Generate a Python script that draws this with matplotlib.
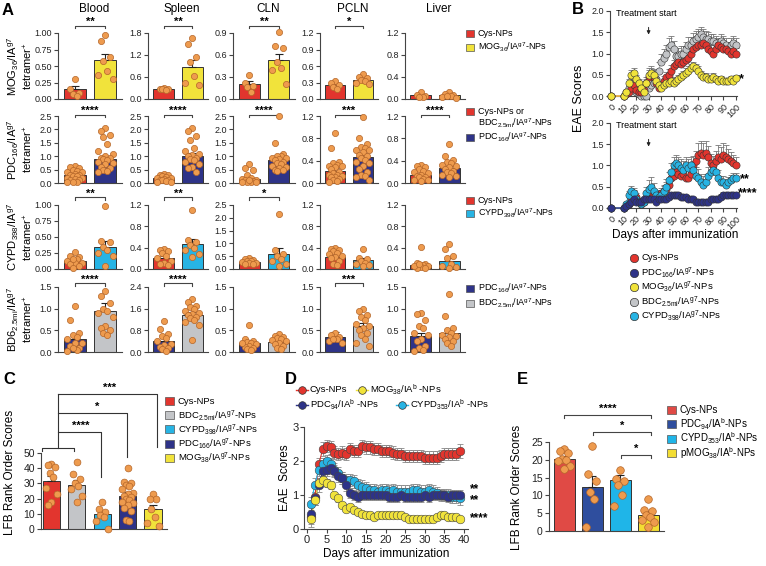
import matplotlib
matplotlib.use('Agg')
import matplotlib.pyplot as plt
import numpy as np
from matplotlib.patches import Rectangle
from matplotlib.lines import Line2D

plt.rcParams['font.family'] = ['Liberation Sans', 'DejaVu Sans']
plt.rcParams['mathtext.fontset'] = 'custom'
plt.rcParams['mathtext.rm'] = 'Liberation Sans'
plt.rcParams['mathtext.it'] = 'Liberation Sans:italic'
plt.rcParams['mathtext.bf'] = 'Liberation Sans:bold'
plt.rcParams['mathtext.default'] = 'regular'

# ---------------- colours ----------------
RED = '#E2352E'; YEL = '#F1E33B'; NAVY = '#2E3388'; CYAN = '#27B4E4'; GRAY = '#C3C5C8'
DOT = '#EE9B4E'; DOTE = '#B4662A'; AXC = '#444444'
RED_E = '#E04A45'; NAVY_E = '#2F4E9E'; CYAN_E = '#1FB5E8'; YEL_E = '#F3DD33'

# ---------------- panel A data ----------------
tissues = ['Blood', 'Spleen', 'CLN', 'PCLN', 'Liver']

mog_cys_mean = [0.15, 0.27, 0.20, 0.26, 0.07]
mog_cys_sem = [0.05, 0.02, 0.04, 0.03, 0.02]
mog_cys_pts = [[0.31, 0.15, 0.09, 0.07, 0.05],
               [0.30, 0.28, 0.27, 0.26, 0.24],
               [0.33, 0.22, 0.18, 0.10, 0.17],
               [0.33, 0.30, 0.25, 0.22, 0.18],
               [0.13, 0.08, 0.05, 0.03, 0.04]]
mog_np_mean = [0.59, 0.88, 0.53, 0.35, 0.07]
mog_np_sem = [0.09, 0.19, 0.09, 0.02, 0.02]
mog_np_pts = [[0.97, 0.88, 0.63, 0.57, 0.43, 0.37, 0.30],
              [1.65, 1.50, 1.15, 1.00, 0.62, 0.45, 0.38],
              [0.91, 0.72, 0.70, 0.50, 0.42, 0.40, 0.20],
              [0.45, 0.40, 0.38, 0.35, 0.33, 0.30, 0.27],
              [0.12, 0.10, 0.08, 0.05, 0.03, 0.02, 0.06]]

pdc_ctrl_mean = [0.28, 0.17, 0.15, 0.22, 0.15]
pdc_ctrl_sem = [0.04, 0.03, 0.06, 0.05, 0.02]
pdc_ctrl_pts = [
    [0.62, 0.60, 0.55, 0.50, 0.45, 0.40, 0.40, 0.35, 0.30, 0.30, 0.25, 0.25, 0.20, 0.20, 0.15, 0.10, 0.10, 0.05, 0.05, 0.03],
    [0.35, 0.30, 0.28, 0.25, 0.22, 0.20, 0.18, 0.15, 0.12, 0.10, 0.10, 0.08, 0.05, 0.05],
    [0.70, 0.55, 0.50, 0.30, 0.20, 0.15, 0.12, 0.10, 0.08, 0.05, 0.05, 0.03, 0.02, 0.10],
    [0.90, 0.62, 0.38, 0.35, 0.33, 0.30, 0.30, 0.28, 0.25, 0.20, 0.18, 0.15, 0.15, 0.12, 0.10, 0.10, 0.08, 0.05, 0.03, 0.02],
    [0.33, 0.30, 0.28, 0.25, 0.22, 0.20, 0.18, 0.15, 0.12, 0.10, 0.10, 0.08, 0.05, 0.05, 0.03]]
pdc_np_mean = [0.90, 1.02, 0.85, 0.47, 0.27]
pdc_np_sem = [0.11, 0.11, 0.12, 0.06, 0.04]
pdc_np_pts = [
    [2.05, 1.95, 1.80, 1.70, 1.45, 1.20, 1.10, 1.00, 0.95, 0.95, 0.90, 0.85, 0.80, 0.75, 0.70, 0.60, 0.55, 0.50, 0.45, 0.40],
    [2.05, 1.95, 1.75, 1.60, 1.30, 1.20, 1.10, 1.05, 1.00, 0.95, 0.90, 0.85, 0.80, 0.70, 0.60, 0.55, 0.40],
    [2.50, 1.50, 1.10, 1.00, 1.00, 0.95, 0.95, 0.90, 0.85, 0.80, 0.75, 0.70, 0.65, 0.60, 0.55, 0.50, 0.50, 0.45],
    [1.18, 0.80, 0.70, 0.65, 0.62, 0.60, 0.60, 0.55, 0.50, 0.48, 0.45, 0.42, 0.38, 0.35, 0.30, 0.25, 0.20, 0.15, 0.12, 0.10, 0.05],
    [0.70, 0.48, 0.42, 0.38, 0.35, 0.32, 0.30, 0.28, 0.25, 0.22, 0.20, 0.18, 0.15, 0.12, 0.10]]

cypd_cys_mean = [0.12, 0.21, 0.28, 0.23, 0.08]
cypd_cys_sem = [0.02, 0.03, 0.03, 0.03, 0.04]
cypd_cys_pts = [
    [0.27, 0.20, 0.18, 0.15, 0.12, 0.10, 0.10, 0.08, 0.05, 0.02, 0.15],
    [0.38, 0.35, 0.33, 0.30, 0.25, 0.20, 0.15, 0.12, 0.10, 0.08],
    [0.42, 0.40, 0.35, 0.32, 0.30, 0.28, 0.25, 0.22, 0.20, 0.18],
    [0.40, 0.38, 0.36, 0.33, 0.30, 0.28, 0.25, 0.22, 0.20, 0.15, 0.10, 0.08],
    [0.42, 0.12, 0.10, 0.08, 0.05, 0.03, 0.02, 0.01, 0.06, 0.10]]
cypd_np_mean = [0.34, 0.46, 0.60, 0.17, 0.15]
cypd_np_sem = [0.10, 0.10, 0.22, 0.04, 0.06]
cypd_np_pts = [
    [0.98, 0.44, 0.42, 0.35, 0.30, 0.25, 0.20, 0.05],
    [1.10, 0.55, 0.50, 0.45, 0.40, 0.35, 0.28, 0.22],
    [2.15, 0.75, 0.60, 0.50, 0.40, 0.30, 0.20, 0.10],
    [0.38, 0.20, 0.18, 0.15, 0.12, 0.10, 0.08, 0.05],
    [0.47, 0.38, 0.25, 0.20, 0.10, 0.05, 0.03, 0.02]]

bdc_pdc_mean = [0.29, 0.42, 0.20, 0.35, 0.37]
bdc_pdc_sem = [0.08, 0.09, 0.04, 0.11, 0.08]
bdc_pdc_pts = [
    [1.07, 0.75, 0.45, 0.40, 0.35, 0.30, 0.20, 0.15, 0.10, 0.05, 0.02, 0.20, 0.10],
    [1.15, 0.85, 0.65, 0.60, 0.50, 0.40, 0.30, 0.25, 0.20, 0.15, 0.10, 0.05],
    [0.62, 0.30, 0.25, 0.22, 0.20, 0.18, 0.15, 0.12, 0.10, 0.08, 0.05, 0.20],
    [0.45, 0.40, 0.35, 0.30, 0.25, 0.20, 0.30],
    [0.90, 0.88, 0.75, 0.60, 0.55, 0.45, 0.40, 0.30, 0.25, 0.15, 0.10, 0.05, 0.02]]
bdc_np_mean = [0.95, 1.38, 0.24, 0.60, 0.44]
bdc_np_sem = [0.17, 0.10, 0.03, 0.07, 0.08]
bdc_np_pts = [
    [1.40, 1.30, 1.12, 1.00, 0.95, 0.90, 0.80, 0.60, 0.55, 0.50, 0.45, 0.40],
    [1.95, 1.85, 1.70, 1.65, 1.60, 1.50, 1.45, 1.40, 1.35, 1.30, 1.25, 1.20, 1.10, 1.00, 0.45],
    [0.42, 0.38, 0.35, 0.32, 0.30, 0.28, 0.25, 0.20, 0.18, 0.15, 0.10, 0.08],
    [1.00, 0.95, 0.85, 0.80, 0.75, 0.65, 0.60, 0.55, 0.50, 0.45, 0.40, 0.30, 0.20, 0.15],
    [1.33, 0.82, 0.55, 0.50, 0.45, 0.40, 0.38, 0.35, 0.30, 0.25, 0.20, 0.15]]

row_ytops = [[1.0, 1.8, 0.9, 1.2, 1.2],
             [2.5, 2.5, 2.5, 1.2, 1.2],
             [1.0, 1.2, 2.5, 1.2, 1.2],
             [1.5, 2.4, 1.5, 1.5, 1.5]]
row_ysteps = [[0.25, 0.6, 0.3, 0.3, 0.4],
              [0.5, 0.5, 0.5, 0.4, 0.4],
              [0.25, 0.4, 0.5, 0.4, 0.4],
              [0.5, 0.8, 0.5, 0.5, 0.5]]
row_sig = [['**', '**', '**', '*', ''],
           ['****', '****', '****', '***', '****'],
           ['**', '**', '*', '', ''],
           ['****', '****', '', '***', '']]
row_labels = ['MOG$_{36}$/IA$^{g7}$\ntetramer$^{+}$',
              'PDC$_{166}$/IA$^{g7}$\ntetramer$^{+}$',
              'CYPD$_{398}$/IA$^{g7}$\ntetramer$^{+}$',
              'BD6$_{2.5mi}$/IA$^{g7}$\ntetramer$^{+}$']
row_legends = [['Cys-NPs', 'MOG$_{36}$/IA$^{g7}$-NPs'],
               ['Cys-NPs or', 'PDC$_{166}$/IA$^{g7}$-NPs'],
               ['Cys-NPs', 'CYPD$_{398}$/IA$^{g7}$-NPs'],
               ['PDC$_{166}$/IA$^{g7}$-NPs', 'BDC$_{2.5mi}$/IA$^{g7}$-NPs']]
row2_legend_extra = 'BDC$_{2.5mi}$/IA$^{g7}$-NPs'
row_colors = [(RED, YEL), (RED, NAVY), (RED, CYAN), (NAVY, GRAY)]
row_data = [(mog_cys_mean, mog_cys_sem, mog_cys_pts, mog_np_mean, mog_np_sem, mog_np_pts),
            (pdc_ctrl_mean, pdc_ctrl_sem, pdc_ctrl_pts, pdc_np_mean, pdc_np_sem, pdc_np_pts),
            (cypd_cys_mean, cypd_cys_sem, cypd_cys_pts, cypd_np_mean, cypd_np_sem, cypd_np_pts),
            (bdc_pdc_mean, bdc_pdc_sem, bdc_pdc_pts, bdc_np_mean, bdc_np_sem, bdc_np_pts)]

# ---------------- panel B data ----------------
days_B = [0, 10, 12, 14, 16, 18, 20, 22, 24, 26, 28, 30, 32, 34, 36, 38, 40, 42, 44, 46, 48, 50,
          52, 54, 56, 58, 60, 62, 64, 66, 68, 70, 72, 74, 76, 78, 80, 82, 84, 86, 88, 90, 92, 94, 96, 98, 100]
b_top_cys = [0, 0, 0.05, 0.1, 0.2, 0.25, 0.15, 0.1, 0.1, 0.15, 0.3, 0.45, 0.5, 0.45, 0.3, 0.2, 0.25, 0.35, 0.45, 0.5,
             0.6, 0.7, 0.75, 0.8, 0.75, 0.8, 0.85, 0.9, 1.0, 1.1, 1.15, 1.2, 1.2, 1.25, 1.2, 1.1, 1.05, 1.0, 1.1, 1.2,
             1.15, 1.1, 1.1, 1.05, 1.0, 1.05, 1.0]
b_top_cys_sem = [0, 0, 0.05, 0.08, 0.1, 0.1, 0.08, 0.06, 0.06, 0.08, 0.15, 0.2, 0.2, 0.18, 0.12, 0.1, 0.1, 0.12, 0.12, 0.14,
                 0.14, 0.15, 0.15, 0.15, 0.14, 0.14, 0.15, 0.15, 0.16, 0.16, 0.15, 0.15, 0.15, 0.15, 0.15, 0.14, 0.14, 0.14,
                 0.15, 0.15, 0.15, 0.14, 0.14, 0.14, 0.14, 0.14, 0.14]
b_top_mog = [0, 0, 0.1, 0.3, 0.5, 0.55, 0.4, 0.3, 0.2, 0.1, 0.3, 0.5, 0.55, 0.5, 0.35, 0.25, 0.2, 0.25, 0.3, 0.3,
             0.35, 0.3, 0.35, 0.4, 0.45, 0.5, 0.55, 0.6, 0.65, 0.7, 0.65, 0.6, 0.5, 0.45, 0.45, 0.4, 0.4, 0.45, 0.4, 0.35,
             0.4, 0.35, 0.35, 0.35, 0.4, 0.35, 0.42]
b_top_mog_sem = [0, 0, 0.05, 0.1, 0.12, 0.12, 0.1, 0.1, 0.08, 0.05, 0.1, 0.12, 0.12, 0.12, 0.1, 0.08, 0.08, 0.08,
                 0.1, 0.1, 0.1, 0.1, 0.1, 0.1, 0.1, 0.1, 0.1, 0.1, 0.1, 0.1, 0.1, 0.1,
                 0.08, 0.08, 0.08, 0.08, 0.08, 0.08, 0.08, 0.08, 0.08, 0.08, 0.08, 0.08, 0.08, 0.08, 0.08]
b_top_bdc = [0, 0, 0.1, 0.2, 0.3, 0.3, 0.1, 0.05, 0, 0, 0, 0.2, 0.25, 0.3, 0.4, 0.6, 0.8, 0.9, 1.0, 1.15,
             1.2, 1.1, 0.95, 0.95, 1.0, 1.0, 1.1, 1.2, 1.2, 1.3, 1.35, 1.4, 1.45, 1.4, 1.35, 1.35, 1.3, 1.3, 1.25, 1.2,
             1.3, 1.25, 1.2, 1.1, 1.2, 1.25, 1.2]
b_top_bdc_sem = [0, 0, 0.05, 0.1, 0.12, 0.12, 0.08, 0.05, 0, 0, 0, 0.1, 0.12, 0.15, 0.18, 0.2, 0.2, 0.2, 0.2, 0.22, 0.22, 0.2,
                 0.18, 0.18, 0.18, 0.18, 0.18, 0.18, 0.18, 0.18, 0.18, 0.18, 0.18, 0.18, 0.18,
                 0.16, 0.16, 0.16, 0.16, 0.16, 0.16, 0.16, 0.16, 0.16, 0.16, 0.16, 0.16]
b_bot_cys = [0, 0, 0.05, 0.1, 0.2, 0.3, 0.25, 0.15, 0.1, 0.15, 0.2, 0.3, 0.35, 0.3, 0.25, 0.3, 0.35, 0.4, 0.45, 0.55,
             0.7, 0.75, 0.85, 0.8, 0.75, 0.8, 0.7, 0.7, 0.8, 1.0, 1.1, 1.25, 1.3, 1.25, 1.3, 1.2, 1.05, 1.0, 1.1, 1.2,
             1.15, 1.25, 1.2, 1.15, 1.1, 1.05, 1.0]
b_bot_cys_sem = [0, 0, 0.05, 0.08, 0.1, 0.12, 0.1, 0.08, 0.06, 0.08, 0.1, 0.12, 0.12, 0.12, 0.1, 0.1, 0.12, 0.12, 0.15, 0.15,
                 0.18, 0.18, 0.18, 0.18, 0.18, 0.18, 0.18, 0.18, 0.2, 0.22, 0.25, 0.28, 0.28, 0.28, 0.28, 0.25, 0.22, 0.22,
                 0.25, 0.28, 0.28, 0.28, 0.28, 0.25, 0.22, 0.2, 0.2]
b_bot_cypd = [0, 0, 0.1, 0.3, 0.4, 0.35, 0.2, 0.15, 0.1, 0.15, 0.35, 0.45, 0.5, 0.4, 0.3, 0.25, 0.3, 0.4, 0.5, 0.65,
              0.85, 1.0, 1.05, 1.0, 0.95, 0.9, 1.0, 0.95, 1.0, 0.9, 0.75, 0.7, 0.6, 0.55, 0.6, 0.75, 0.85, 0.9, 0.85, 0.7,
              0.6, 0.6, 0.55, 0.6, 0.65, 0.7, 0.7]
b_bot_cypd_sem = [0, 0, 0.05, 0.1, 0.12, 0.12, 0.1, 0.08, 0.06, 0.08, 0.15, 0.2, 0.22, 0.18, 0.12, 0.1, 0.12, 0.15, 0.18,
                  0.2, 0.2, 0.2, 0.2, 0.2, 0.2, 0.2, 0.2, 0.2, 0.2, 0.2,
                  0.22, 0.22, 0.2, 0.2, 0.2, 0.22, 0.22, 0.22, 0.22, 0.2, 0.15, 0.15, 0.12, 0.12, 0.12, 0.12, 0.12]
b_bot_pdc = [0, 0, 0.05, 0.1, 0.15, 0.2, 0.15, 0.15, 0.15, 0.2, 0.2, 0.2, 0.2, 0.2, 0.15, 0.2, 0.2, 0.2, 0.2, 0.25,
             0.3, 0.3, 0.3, 0.3, 0.25, 0.25, 0.25, 0.2, 0.2, 0.2, 0.15, 0.15, 0.15, 0.15, 0.15, 0.15, 0.2, 0.2, 0.2, 0.2,
             0.25, 0.3, 0.3, 0.3, 0.3, 0.3, 0.3]
b_bot_pdc_sem = [0, 0, 0.03, 0.05, 0.05, 0.06, 0.05, 0.05, 0.05, 0.06, 0.06, 0.06, 0.06, 0.06, 0.05, 0.06, 0.06, 0.06, 0.06,
                 0.06, 0.07, 0.07, 0.07, 0.07, 0.06, 0.06, 0.06, 0.05, 0.05, 0.05, 0.05, 0.05, 0.05, 0.05, 0.05, 0.05,
                 0.06, 0.06, 0.06, 0.06, 0.07, 0.08, 0.08, 0.08, 0.08, 0.08, 0.08]

# ---------------- panel C data ----------------
c_labels = ['Cys-NPs', 'BDC$_{2.5mi}$/IA$^{g7}$-NPs', 'CYPD$_{398}$/IA$^{g7}$-NPs',
            'PDC$_{166}$/IA$^{g7}$-NPs', 'MOG$_{38}$/IA$^{g7}$-NPs']
c_mean = [31.5, 29.0, 10.0, 22.0, 13.0]
c_sem = [3.5, 3.0, 2.0, 2.5, 3.0]
c_pts = [[43, 42, 41, 37, 34, 27, 23, 18, 16],
         [44, 36, 33, 30, 28, 26, 22, 18],
         [18, 13, 11, 9, 8, 5, 0],
         [40, 31, 30, 29, 28, 26, 24, 23, 22, 21, 20, 19, 18, 17, 16, 14, 12, 6, 5],
         [23, 20, 20, 13, 8, 4, 2]]

# ---------------- panel D data ----------------
days_D = [1, 2, 3, 4, 5, 6, 7, 8, 9, 10, 11, 12, 13, 14, 15, 16, 17, 18, 19, 20,
          21, 22, 23, 24, 25, 26, 27, 28, 29, 30, 31, 32, 33, 34, 35, 36, 37, 38, 39]
d_cys = [0.35, 0.95, 1.9, 2.35, 2.45, 2.4, 2.25, 2.2, 2.25, 2.2, 2.35, 2.3, 2.3, 2.45, 2.4, 2.4, 2.35, 2.35, 2.3, 2.3,
         2.3, 2.25, 2.2, 2.2, 2.15, 2.15, 2.15, 2.15, 2.15, 2.1, 2.1, 2.1, 2.1, 2.15, 2.2, 2.2, 2.2, 2.2, 2.3]
d_cys_sem = [0.3, 0.25, 0.2, 0.2, 0.18, 0.18, 0.18, 0.18, 0.18, 0.18, 0.18, 0.18, 0.18, 0.18, 0.18, 0.18, 0.18, 0.18,
             0.18, 0.18, 0.18, 0.18, 0.18, 0.18, 0.18, 0.18, 0.18, 0.18, 0.18, 0.18, 0.18, 0.18, 0.18, 0.18, 0.18,
             0.18, 0.18, 0.18, 0.2]
d_pdc = [0.45, 0.9, 1.3, 1.7, 1.75, 1.8, 1.7, 1.55, 1.5, 1.3, 1.05, 1.0, 0.95, 1.0, 1.0, 1.0, 1.0, 1.0, 1.0, 1.0,
         0.95, 0.95, 0.95, 1.0, 0.95, 0.95, 0.95, 0.95, 0.95, 1.0, 0.95, 1.0, 1.0, 1.0, 1.0, 0.95, 1.0, 1.0, 1.0]
d_pdc_sem = [0.2, 0.2, 0.2, 0.18, 0.18, 0.18, 0.18, 0.18, 0.18, 0.18, 0.15, 0.15, 0.15, 0.15, 0.15, 0.15, 0.15, 0.15,
             0.15, 0.15, 0.15, 0.15, 0.15, 0.15, 0.15, 0.15, 0.15, 0.15, 0.15, 0.15, 0.15, 0.15, 0.15, 0.15, 0.15,
             0.15, 0.15, 0.15, 0.15]
d_mog = [0.3, 0.85, 1.35, 1.45, 1.35, 1.3, 1.0, 0.9, 0.7, 0.6, 0.65, 0.55, 0.5, 0.45, 0.4, 0.4, 0.35, 0.4, 0.4, 0.4,
         0.4, 0.4, 0.4, 0.4, 0.35, 0.3, 0.3, 0.3, 0.3, 0.3, 0.3, 0.3, 0.35, 0.4, 0.4, 0.35, 0.35, 0.35, 0.3]
d_mog_sem = [0.15, 0.15, 0.15, 0.12, 0.12, 0.12, 0.1, 0.1, 0.08, 0.08, 0.08, 0.06, 0.06, 0.06, 0.05, 0.05, 0.05, 0.05,
             0.05, 0.05, 0.05, 0.05, 0.05, 0.05, 0.05, 0.05, 0.05, 0.05, 0.05, 0.05, 0.05, 0.05, 0.05, 0.05, 0.05,
             0.05, 0.05, 0.05, 0.05]
d_cypd = [0.75, 1.3, 1.75, 1.9, 2.0, 1.9, 1.75, 1.65, 1.5, 1.45, 1.45, 1.4, 1.3, 1.25, 1.2, 1.15, 1.15, 1.1, 1.15, 1.15,
          1.1, 1.15, 1.1, 1.1, 1.1, 1.1, 1.15, 1.15, 1.1, 1.1, 1.15, 1.1, 1.05, 1.0, 1.0, 1.0, 0.95, 0.95, 0.9]
d_cypd_sem = [0.2, 0.2, 0.2, 0.18, 0.18, 0.18, 0.18, 0.18, 0.18, 0.18, 0.18, 0.18, 0.18, 0.18, 0.18, 0.18, 0.18, 0.18,
              0.18, 0.18, 0.18, 0.18, 0.18, 0.18, 0.18, 0.18, 0.18, 0.18, 0.18, 0.18, 0.18, 0.18, 0.18, 0.18, 0.18,
              0.18, 0.18, 0.18, 0.18]

# ---------------- panel E data ----------------
e_labels = ['Cys-NPs', 'PDC$_{94}$/IA$^{b}$-NPs', 'CYPD$_{353}$/IA$^{b}$-NPs', 'pMOG$_{38}$/IA$^{b}$-NPs']
e_mean = [20.3, 12.5, 14.2, 4.5]
e_sem = [0.8, 3.0, 1.6, 1.0]
e_pts = [[23, 22.5, 22, 20.2, 20, 19.8, 18.2, 17.5],
         [24, 16, 14, 11, 9, 1],
         [17, 14.5, 14, 13, 10, 7],
         [9, 6, 5.5, 4.5, 4, 3, 2.5, 1]]

# ================= drawing =================
W, H = 766, 566
fig = plt.figure(figsize=(W / 100, H / 100), dpi=100)


def add_ax(x0, y0, x1, y1):
    return fig.add_axes([x0 / W, 1 - y1 / H, (x1 - x0) / W, (y1 - y0) / H])


def ftext(x, y, s, **kw):
    return fig.text(x / W, 1 - y / H, s, **kw)


def fsquare(x, y, color, w=8, h=7):
    fig.add_artist(Rectangle((x / W, 1 - (y + h / 2) / H), w / W, h / H, transform=fig.transFigure,
                             facecolor=color, edgecolor='#555555', lw=0.5))


def fmarker(x, y, color, ms=6, line=False):
    if line:
        fig.add_artist(Line2D([(x - 6) / W, (x + 6) / W], [1 - y / H, 1 - y / H], transform=fig.transFigure,
                              color=color, lw=1.0))
    fig.add_artist(Line2D([x / W], [1 - y / H], transform=fig.transFigure, marker='o', ms=ms,
                          mfc=color, mec='#333333', mew=0.5, ls='none'))


def style_ax(ax, labelsize=6.5, pad=1.5):
    for s in ['top', 'right']:
        ax.spines[s].set_visible(False)
    for s in ['left', 'bottom']:
        ax.spines[s].set_color(AXC)
        ax.spines[s].set_linewidth(0.8)
    ax.tick_params(axis='both', colors=AXC, labelcolor='#222222', labelsize=labelsize,
                   length=3, width=0.8, pad=pad)
    ax.set_facecolor('none')


def swarm_offsets(vals, spread=0.24):
    order = np.argsort(vals)[::-1]
    pattern = [0.0, -spread * 0.6, spread * 0.6, -spread * 0.3, spread * 0.3, -spread, spread]
    offs = np.zeros(len(vals))
    for k, i in enumerate(order):
        offs[i] = pattern[k % len(pattern)]
    return offs


def dots(ax, xc, vals, s=20, spread=0.24):
    vals = np.asarray(vals, float)
    ax.scatter(xc + swarm_offsets(vals, spread), vals, s=s, c=DOT, edgecolors=DOTE, linewidths=0.5,
               zorder=5, clip_on=False)


def bar_sem(ax, xc, mean, sem, color, width):
    ax.bar([xc], [mean], width=width, color=color, edgecolor='#333333', linewidth=0.7, zorder=2)
    ax.errorbar([xc], [mean], yerr=[[0], [sem]], fmt='none', ecolor='#222222', elinewidth=0.8,
                capsize=3, capthick=0.8, zorder=3)


# ---------- Panel A ----------
col_x = [(58, 122), (148, 208), (233, 295), (320, 378), (405, 465)]
row_y = [(33, 99), (116, 183), (205, 269), (287, 352)]
bracket_frac = [1.11, 1.02, 1.12, 1.06]
legend_y = [(33, 47), (111, 137), (200, 213), (288, 303)]

for r in range(4):
    m0, s0, p0, m1, s1, p1 = row_data[r]
    c0, c1 = row_colors[r]
    y0, y1 = row_y[r]
    for c in range(5):
        x0, x1 = col_x[c]
        ax = add_ax(x0, y0, x1, y1)
        style_ax(ax)
        ax.set_xlim(-0.55, 1.55)
        top = row_ytops[r][c]
        ax.set_ylim(0, top)
        step = row_ysteps[r][c]
        ticks = np.arange(0, top + step / 2, step)
        ax.set_yticks(ticks)
        fmt = '{:.2f}' if step == 0.25 else '{:.1f}'
        ax.set_yticklabels([fmt.format(t) for t in ticks])
        ax.set_xticks([])
        bar_sem(ax, 0, m0[c], s0[c], c0, 0.72)
        bar_sem(ax, 1, m1[c], s1[c], c1, 0.72)
        dots(ax, 0, p0[c])
        dots(ax, 1, p1[c])
        sig = row_sig[r][c]
        if sig:
            bf = bracket_frac[r]
            trans = ax.get_xaxis_transform()
            ax.plot([0, 0, 1, 1], [bf - 0.04, bf, bf, bf - 0.04], color='#444444', lw=0.8,
                    transform=trans, clip_on=False)
            ax.text(0.5, bf - 0.02, sig, transform=trans, ha='center', va='bottom',
                    fontsize=8, fontweight='bold', clip_on=False)
        if r == 0:
            ftext((x0 + x1) / 2 + 4, 9, tissues[c], ha='center', va='center', fontsize=8.5)
    ftext(20, (y0 + y1) / 2, row_labels[r], rotation=90, ha='center', va='center',
          fontsize=8, linespacing=1.05, multialignment='center')
    # legend
    ly0, ly1 = legend_y[r]
    fsquare(466, ly0, c0)
    ftext(478, ly0, row_legends[r][0], ha='left', va='center', fontsize=6.5)
    if r == 1:
        ftext(478, ly0 + 12, row2_legend_extra, ha='left', va='center', fontsize=6.5)
    fsquare(466, ly1, c1)
    ftext(478, ly1, row_legends[r][1], ha='left', va='center', fontsize=6.5)

# ---------- Panel B ----------
b_axes = [add_ax(610, 11, 737, 96), add_ax(610, 123, 737, 208)]
b_sets = [[(b_top_bdc, b_top_bdc_sem, GRAY), (b_top_cys, b_top_cys_sem, RED), (b_top_mog, b_top_mog_sem, YEL)],
          [(b_bot_cys, b_bot_cys_sem, RED), (b_bot_cypd, b_bot_cypd_sem, CYAN), (b_bot_pdc, b_bot_pdc_sem, NAVY)]]
for ax, sets in zip(b_axes, b_sets):
    style_ax(ax, labelsize=6.5)
    ax.set_xlim(-1, 101)
    ax.set_ylim(0, 2.0)
    ax.set_yticks([0, 0.5, 1.0, 1.5, 2.0])
    ax.set_yticklabels(['0.0', '0.5', '1.0', '1.5', '2.0'])
    ax.set_xticks(range(0, 101, 10))
    ax.set_xticklabels([str(v) for v in range(0, 101, 10)], rotation=45, ha='right', va='top',
                       rotation_mode='anchor')
    for vals, sem, col in sets:
        v = np.asarray(vals, float)
        ax.errorbar(days_B, v, yerr=[np.zeros_like(v), sem], fmt='none', ecolor='#777777',
                    elinewidth=0.6, capsize=2, capthick=0.6, zorder=2, clip_on=False)
        ax.plot(days_B, v, '-', color=col, lw=0.8, zorder=3, clip_on=False)
        ax.plot(days_B, v, 'o', ms=5.2, mfc=col, mec='#333333', mew=0.4, zorder=4, clip_on=False)
    ax.text(4, 1.93, 'Treatment start', fontsize=6.5, ha='left', va='center')
    ax.annotate('', xy=(30, 1.38), xytext=(30, 1.68),
                arrowprops=dict(arrowstyle='-|>', color='#222222', lw=0.7, mutation_scale=5))
b_axes[0].text(102.5, 0.4, '*', fontsize=9, fontweight='bold', ha='left', va='center', clip_on=False)
b_axes[1].text(103, 0.68, '**', fontsize=9, fontweight='bold', ha='left', va='center', clip_on=False)
b_axes[1].text(101.5, 0.34, '****', fontsize=9, fontweight='bold', ha='left', va='center', clip_on=False)
ftext(579, 98, 'EAE Scores', rotation=90, ha='center', va='center', fontsize=9)
ftext(675, 235, 'Days after immunization', ha='center', va='center', fontsize=8.5)
b_leg = [('Cys-NPs', RED), ('PDC$_{166}$/IA$^{g7}$-NPs', NAVY), ('MOG$_{36}$/IA$^{g7}$-NPs', YEL),
         ('BDC$_{2.5mi}$/IA$^{g7}$-NPs', GRAY), ('CYPD$_{398}$/IA$^{g7}$-NPs', CYAN)]
for i, (lab, col) in enumerate(b_leg):
    yy = 258 + i * 14.5
    fmarker(634, yy, col, ms=6)
    ftext(641, yy, lab, ha='left', va='center', fontsize=6.8)

# ---------- Panel C ----------
axC = add_ax(41, 453, 167, 529)
style_ax(axC, labelsize=7.5)
axC.set_xlim(-0.4, 4.55)
axC.set_ylim(0, 50)
axC.set_yticks([0, 10, 20, 30, 40, 50])
axC.set_xticks([])
c_cols = [RED, GRAY, CYAN, NAVY, YEL]
for i in range(5):
    bar_sem(axC, i, c_mean[i], c_sem[i], c_cols[i], 0.67)
    dots(axC, i, c_pts[i], s=24, spread=0.22)
bk = dict(color='#333333', lw=0.8, clip_on=False)
axC.plot([-0.35, -0.35, 0.9, 0.9], [51.5, 53.3, 53.3, 51.5], **bk)
axC.plot([0.27, 0.27], [53.3, 88.8], **bk)
axC.plot([0.27, 1.96, 1.96], [63.8, 63.8, 34], **bk)
axC.plot([0.27, 2.98, 2.98], [76.3, 76.3, 47.4], **bk)
axC.plot([0.27, 4.16, 4.16], [88.8, 88.8, 54], **bk)
axC.text(1.15, 64.5, '****', ha='center', va='bottom', fontsize=8, fontweight='bold', clip_on=False)
axC.text(1.8, 77.0, '*', ha='center', va='bottom', fontsize=8, fontweight='bold', clip_on=False)
axC.text(2.3, 89.5, '***', ha='center', va='bottom', fontsize=8, fontweight='bold', clip_on=False)
ftext(10, 472, 'LFB Rank Order Scores', rotation=90, ha='center', va='center', fontsize=8.5)
for i in range(5):
    yy = 401 + i * 14.2
    fsquare(165, yy, c_cols[i], w=9, h=8)
    ftext(178, yy, c_labels[i], ha='left', va='center', fontsize=6.8)

# ---------- Panel D ----------
axD = add_ax(304, 427, 468, 529)
style_ax(axD, labelsize=8, pad=1.0)
axD.set_xlim(-0.76, 41)
axD.set_ylim(0, 3)
axD.set_yticks([0, 1, 2, 3])
axD.set_xticks(range(0, 41, 5))
d_sets = [(d_cys, d_cys_sem, RED), (d_cypd, d_cypd_sem, CYAN), (d_pdc, d_pdc_sem, NAVY), (d_mog, d_mog_sem, YEL)]
for vals, sem, col in d_sets:
    axD.errorbar(days_D, vals, yerr=sem, fmt='none', ecolor='#888888', elinewidth=0.6, capsize=2,
                 capthick=0.6, zorder=2)
    axD.plot(days_D, vals, '-', color=col, lw=0.8, zorder=3)
    axD.plot(days_D, vals, 'o', ms=6.2, mfc=col, mec='#444444', mew=0.4, zorder=4, clip_on=False)
axD.text(41.5, 1.16, '**', fontsize=8.5, fontweight='bold', ha='left', va='center', clip_on=False)
axD.text(41.5, 0.84, '**', fontsize=8.5, fontweight='bold', ha='left', va='center', clip_on=False)
axD.text(41.5, 0.33, '****', fontsize=8.5, fontweight='bold', ha='left', va='center', clip_on=False)
ftext(285, 478, 'EAE  Scores', rotation=90, ha='center', va='center', fontsize=8.5)
ftext(386, 554, 'Days after immunization', ha='center', va='center', fontsize=8.5)
d_leg = [(302, 390, RED, 'Cys-NPs'), (362, 390, YEL, 'MOG$_{38}$/IA$^{b}$ -NPs'),
         (302, 405, NAVY, 'PDC$_{94}$/IA$^{b}$ -NPs'), (402, 405, CYAN, 'CYPD$_{353}$/IA$^{b}$ -NPs')]
for x, y, col, lab in d_leg:
    fmarker(x, y, col, ms=5.5, line=True)
    ftext(x + 8, y, lab, ha='left', va='center', fontsize=6.8)

# ---------- Panel E ----------
axE = add_ax(549, 442, 664, 531)
style_ax(axE, labelsize=7.5)
axE.set_xlim(-0.54, 3.57)
axE.set_ylim(0, 25)
axE.set_yticks([0, 5, 10, 15, 20, 25])
axE.set_xticks([])
e_cols = [RED_E, NAVY_E, CYAN_E, YEL_E]
for i in range(4):
    bar_sem(axE, i, e_mean[i], e_sem[i], e_cols[i], 0.75)
    dots(axE, i, e_pts[i], s=30, spread=0.22)
for (xa, xb, yb, sg) in [(0, 3.1, 32.6, '****'), (1.05, 3.1, 27.8, '*'), (2.05, 3.1, 21.3, '*')]:
    axE.plot([xa, xa, xb, xb], [yb - 0.9, yb, yb, yb - 0.9], color='#444444', lw=0.8, clip_on=False)
    axE.text((xa + xb) / 2, yb + 0.3, sg, ha='center', va='bottom', fontsize=8, fontweight='bold',
             clip_on=False)
ftext(517, 487, 'LFB Rank Order Scores', rotation=90, ha='center', va='center', fontsize=8.5)
for i in range(4):
    yy = 410 + i * 14.3
    fsquare(667, yy, e_cols[i], w=9, h=8)
    ftext(680, yy, e_labels[i], ha='left', va='center', fontsize=7)

# ---------- panel letters ----------
for lx, ly, L in [(2, 3, 'A'), (572, 2, 'B'), (3, 372, 'C'), (285, 372, 'D'), (517, 372, 'E')]:
    ftext(lx, ly, L, ha='left', va='top', fontsize=12, fontweight='bold')

fig.savefig('out.png', dpi=100)
